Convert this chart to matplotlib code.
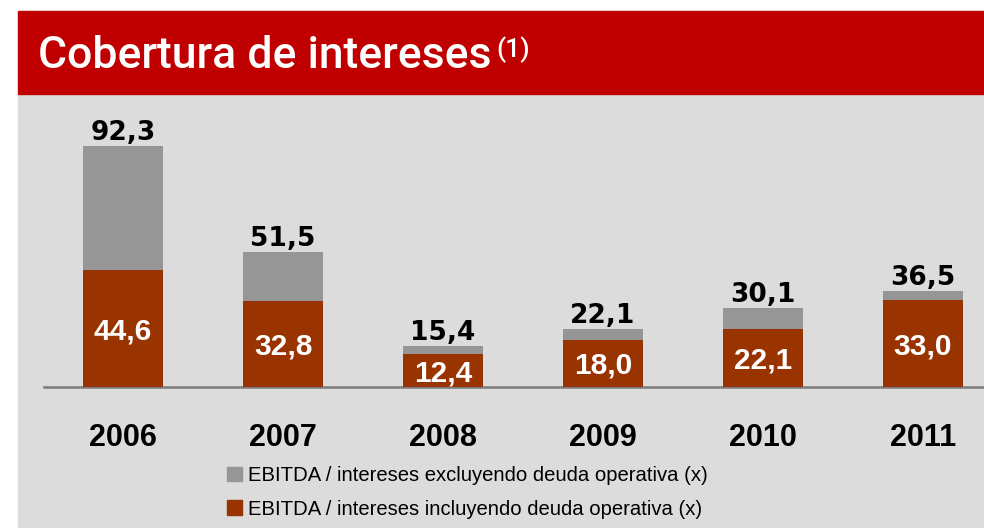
import matplotlib
matplotlib.use("Agg")
import matplotlib.pyplot as plt
from matplotlib.patches import Rectangle, Patch

years = ["2006", "2007", "2008", "2009", "2010", "2011"]
excl = [92.3, 51.5, 15.4, 22.1, 30.1, 36.5]
incl = [44.6, 32.8, 12.4, 18.0, 22.1, 33.0]
legend_labels = ["EBITDA / intereses excluyendo deuda operativa (x)",
                 "EBITDA / intereses incluyendo deuda operativa (x)"]
title = "Cobertura de intereses"

W, H = 984, 528
RED = "#c00000"
PANEL = "#dcdcdc"
GREY = "#969696"
BROWN = "#993300"

def fmt(v):
    return f"{v:.1f}".replace(".", ",")

fig = plt.figure(figsize=(W / 100, H / 100), dpi=100)
fig.patch.set_facecolor("white")

# background panel and header band
fig.patches.append(Rectangle((18 / W, 0), 1 - 18 / W, (H - 94) / H,
                             transform=fig.transFigure, color=PANEL, zorder=-5))
fig.patches.append(Rectangle((18 / W, (H - 94) / H), 1 - 18 / W, (94 - 11) / H,
                             transform=fig.transFigure, color=RED, zorder=-5))
fig.text(38 / W, (H - 67.7) / H, title, color="white", fontsize=32,
         fontweight="medium", family="Roboto", va="baseline", ha="left")
fig.text(496 / W, (H - 49.5) / H, "(1)", color="white", fontsize=19,
         fontweight="medium", family="Roboto", va="center", ha="left")

base_y = 386.5
ax = fig.add_axes([44 / W, (H - base_y) / H, 1 - 44 / W, (base_y - 94) / H])
ax.set_zorder(2)
ax.set_facecolor("none")
ppu = 2.607
ax.set_ylim(0, (base_y - 94) / ppu)
ax.set_xlim(-79 / 160, (984 - 44 - 79) / 160)

x = list(range(len(years)))
ax.bar(x, excl, width=0.5, color=GREY, zorder=2)
ax.bar(x, incl, width=0.5, color=BROWN, zorder=3)

for xi, e, i in zip(x, excl, incl):
    ax.annotate(fmt(e), (xi, e), xytext=(0, 4.5), textcoords="offset points",
                ha="center", va="baseline", fontsize=19, fontweight="bold",
                family="DejaVu Sans", color="black")
    ax.annotate(fmt(i), (xi, i / 2), xytext=(0, -2), textcoords="offset points",
                ha="center", va="center", fontsize=21.5, fontweight="bold",
                family="Liberation Sans", color="white", zorder=4)

for s in ["top", "right", "left"]:
    ax.spines[s].set_visible(False)
ax.spines["bottom"].set_color("#7a7a7a")
ax.spines["bottom"].set_linewidth(1.8)
ax.set_yticks([])
ax.set_xticks(x)
ax.set_xticklabels(years, fontsize=22, fontweight="bold", family="Liberation Sans")
ax.tick_params(axis="x", length=0, pad=26)

handles = [Patch(color=GREY), Patch(color=BROWN)]
fig.legend(handles, legend_labels, loc="upper left",
           bbox_to_anchor=(227 / W, (H - 466) / H), frameon=False,
           prop={"family": "Liberation Sans", "size": 14.6},
           handlelength=0.75, handleheight=0.75, handletextpad=0.3,
           labelspacing=0.72, borderpad=0, borderaxespad=0)

fig.savefig("out.png", dpi=100, facecolor="white")
